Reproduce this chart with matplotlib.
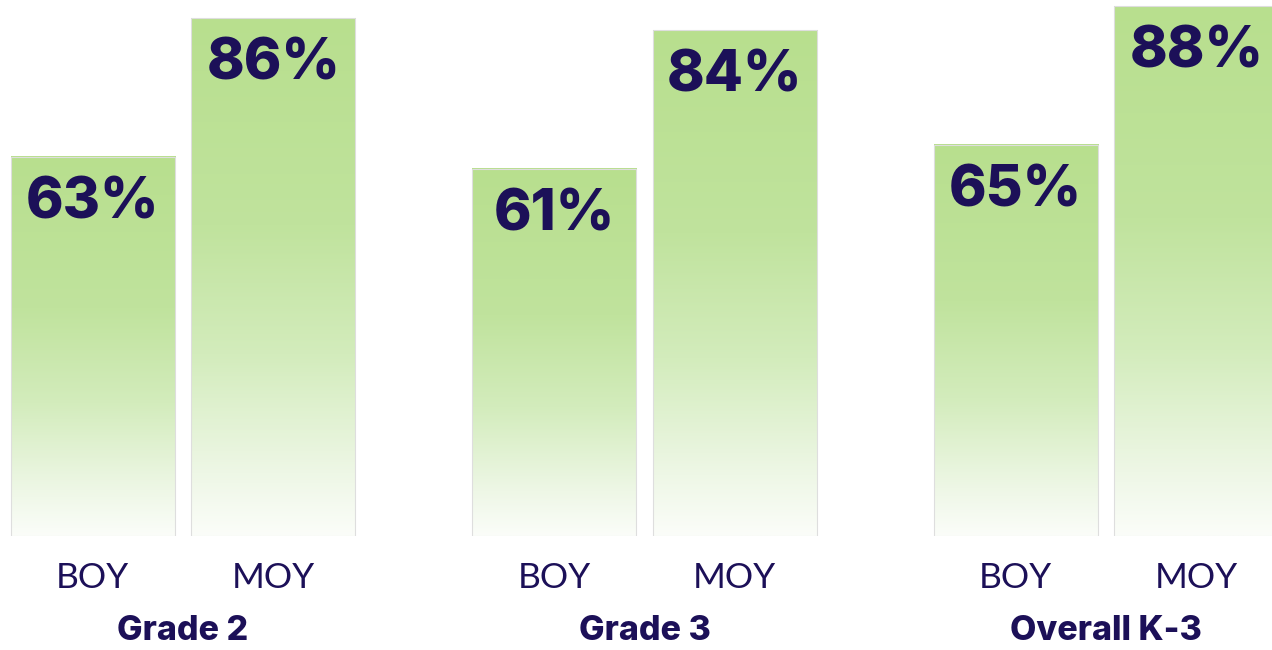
import numpy as np
import matplotlib.pyplot as plt
from matplotlib.colors import LinearSegmentedColormap

groups = ['Grade 2', 'Grade 3', 'Overall K-3']
periods = ['BOY', 'MOY']
boy = [63, 61, 65]
moy = [86, 84, 88]

navy = '#1c1058'
green = '#b8df8e'

fig = plt.figure(figsize=(12.72, 6.5), dpi=100)
ax = fig.add_axes([0, 114 / 650, 1, 536 / 650])
ax.axis('off')

# gradient: green over the top of each bar, fading to near white at the bottom
cmap = LinearSegmentedColormap.from_list(
    'fade', [(0.0, '#fbfdf9'), (0.12, '#eef7e6'), (0.35, '#d3ecbc'),
             (0.6, '#c0e39d'), (1.0, green)])
grad = np.linspace(0, 1, 256).reshape(-1, 1)

off = 0.1956
w = 0.3554
for i, g in enumerate(groups):
    for j, v in enumerate([boy[i], moy[i]]):
        x = i + (j - 0.5) * 2 * off
        ax.imshow(grad, cmap=cmap, origin='lower', aspect='auto',
                  extent=[x - w / 2, x + w / 2, 0, v], zorder=1)
        ax.bar(x, v, width=w, facecolor='none', edgecolor='#dedede', linewidth=0.8, zorder=2)
        ax.text(x, v - 7.7, f'{v}%', ha='center', va='center', fontsize=41,
                fontweight='heavy', family='Inter', color=navy, zorder=3)
        ax.text(x, -7.0, periods[j], ha='center', va='center', fontsize=25.5,
                fontweight='normal', family='Lato', color=navy, clip_on=False)
    ax.text(i, -15.7, g, ha='center', va='center', fontsize=24.5,
            fontweight='heavy', family='Inter', color=navy, clip_on=False)

ax.set_xlim(-0.3965, 2.3597)
ax.set_ylim(0, 89.04)
fig.savefig('out.png', dpi=100, facecolor='white')
